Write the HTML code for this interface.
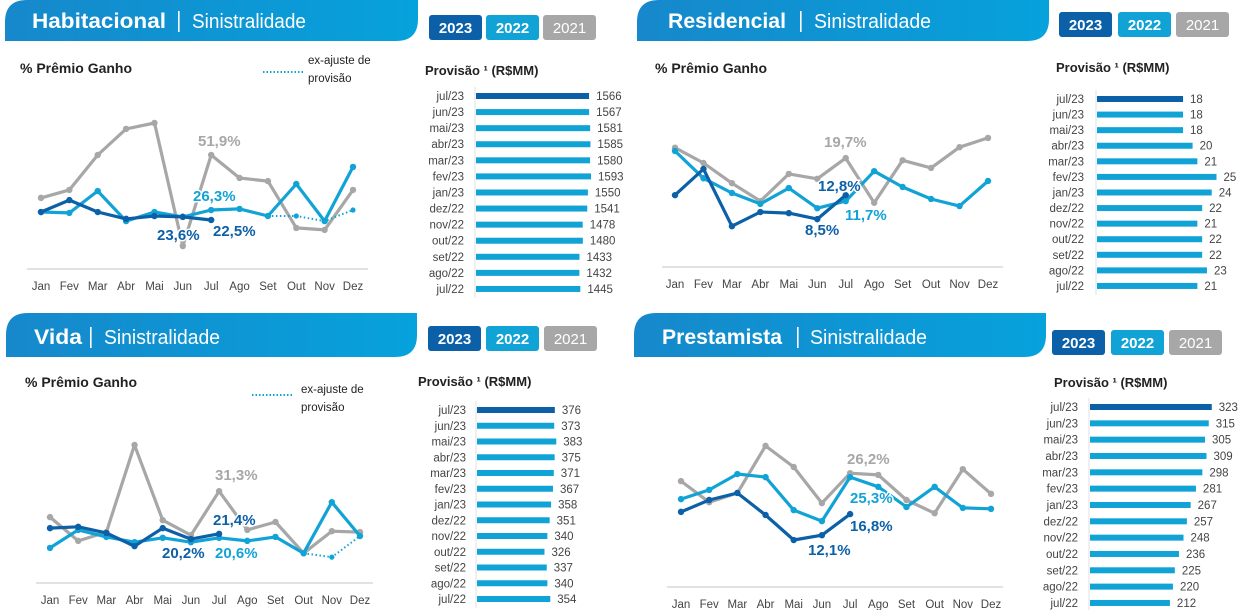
<!DOCTYPE html>
<html><head><meta charset="utf-8">
<style>
html,body{margin:0;padding:0;background:#fff;}
svg{display:block;font-family:"Liberation Sans",sans-serif;}
</style></head>
<body>
<svg id="root" width="1244" height="610" viewBox="0 0 1244 610" xmlns="http://www.w3.org/2000/svg">
<defs>
<linearGradient id="bn" x1="0" x2="1" y1="0" y2="0"><stop offset="0" stop-color="#1688cb"/><stop offset="1" stop-color="#06a2dc"/></linearGradient>
</defs>
</svg>
<script>
const months = ["Jan","Fev","Mar","Abr","Mai","Jun","Jul","Ago","Set","Out","Nov","Dez"];
const barCats = ["jul/23","jun/23","mai/23","abr/23","mar/23","fev/23","jan/23","dez/22","nov/22","out/22","set/22","ago/22","jul/22"];

// Habitacional
const hab2021 = [32.5,36.1,51.9,63.7,66.4,10.7,51.9,41.5,40.1,18.9,18.0,36.1];
const hab2022 = [26.1,25.7,35.6,22.0,26.1,23.9,27.0,27.5,24.3,38.8,22.0,46.5];
const hab2022ex = [null,null,null,null,null,null,null,null,24.3,24.3,22.0,27.0];
const hab2023 = [26.1,31.5,26.1,23.0,24.3,23.9,22.5];
const habProv = [1566,1567,1581,1585,1580,1593,1550,1541,1478,1480,1433,1432,1445];
// Residencial
const res2021 = [21.7,18.9,15.2,11.9,16.9,16.0,19.8,11.6,19.4,18.0,21.8,23.5];
const res2022 = [21.1,16.1,13.4,11.4,14.3,10.6,11.9,17.4,14.5,12.3,11.0,15.6];
const res2023 = [13.0,17.8,7.3,9.9,9.7,8.6,13.0];
const resProv = [18,18,18,20,21,25,24,22,21,22,22,23,21];
// Vida
const vid2021 = [25.2,19.8,21.8,41.6,24.5,21.1,31.1,22.3,24.1,17.0,22.0,21.8];
const vid2022 = [18.2,22.3,20.7,19.5,20.5,19.5,20.5,19.8,20.7,17.0,28.6,20.9];
const vid2022ex = [null,null,null,null,null,null,null,null,null,17.0,16.1,20.9];
const vid2023 = [22.7,23.0,21.6,18.6,22.7,20.2,21.4];
const vidProv = [376,373,383,375,371,367,358,351,340,326,337,340,354];
// Prestamista
const pre2021 = [24.3,19.5,21.6,32.3,27.5,19.3,26.1,25.7,20.0,17.0,27.0,21.4];
const pre2022 = [20.2,22.3,25.9,25.2,17.7,15.2,25.2,23.0,18.4,23.0,18.2,18.0];
const pre2023 = [17.3,20.0,21.6,16.6,10.9,12.0,16.8];
const preProv = [323,315,305,309,298,281,267,257,248,236,225,220,212];

const DARK="#0b60a8", LIGHT="#12a3d6", GRAY="#a7a7a7";
const NS="http://www.w3.org/2000/svg";
const root=document.getElementById('root');
function mk(tag,attrs,parent,text){const e=document.createElementNS(NS,tag);for(const k in attrs)e.setAttribute(k,attrs[k]);if(text!==undefined)e.textContent=text;(parent||root).appendChild(e);return e;}

function panel(cfg){
  const g=mk('g',{});
  
  
  // banner
  const b=cfg.banner; const r=22;
  const ban=mk('path',{d:`M${b.x0} ${b.y0+r} Q${b.x0} ${b.y0} ${b.x0+r} ${b.y0} L${b.x1} ${b.y0} L${b.x1} ${b.y1-r} Q${b.x1} ${b.y1} ${b.x1-r} ${b.y1} L${b.x0} ${b.y1} Z`,fill:'url(#bn)'},g);
  
  
  const t=mk('text',{x:cfg.title.x,y:cfg.title.y,fill:'#fff','font-size':21,'font-weight':'bold',textLength:cfg.title.w,lengthAdjust:'spacingAndGlyphs'},g,cfg.title.text);
  
  
  const dv=mk('rect',{x:cfg.title.div,y:cfg.title.y-17,width:1.6,height:21,fill:'#fff'},g);
  
  
  const s=mk('text',{x:cfg.title.sx,y:cfg.title.y,fill:'#fff','font-size':20,textLength:cfg.title.sw,lengthAdjust:'spacingAndGlyphs'},g,'Sinistralidade');
  
  
  // year tags
  const years=['2023','2022','2021'], cols=[DARK,LIGHT,GRAY];
  years.forEach((yr,i)=>{
    const x=cfg.tags.x[i];
    const rc=mk('rect',{x:x,y:cfg.tags.y,width:53,height:25,rx:3,fill:cols[i]},g);
    
    
    const tx=mk('text',{x:x+26.5,y:cfg.tags.y+18,'text-anchor':'middle',fill:'#fff','font-size':15,'font-weight':i<2?'bold':'normal'},g,yr);
    
    
  });
  if(cfg.sub){
    const st=mk('text',{x:cfg.sub.x,y:cfg.sub.y,fill:'#222','font-size':14,'font-weight':'bold'},g,'% Prêmio Ganho');
    
    
  }
  if(cfg.legend){
    const L=cfg.legend;
    const ll=mk('line',{x1:L.x,x2:L.x+40,y1:L.y,y2:L.y,stroke:LIGHT,'stroke-width':2,'stroke-dasharray':'1.5 2'},g);
    
    
    const l1=mk('text',{x:L.tx,y:L.t1,fill:'#222','font-size':11.5},g,'ex-ajuste de');
    
    
    const l2=mk('text',{x:L.tx,y:L.t2,fill:'#222','font-size':11.5},g,'provisão');
    
    
  }
  // line chart
  const C=cfg.chart;
  const xs=i=>C.x0+i*(C.x1-C.x0)/11;
  const ys=v=>C.base-v*C.k;
  const ax=mk('line',{x1:C.ax0,x2:C.ax1,y1:C.axy,y2:C.axy,stroke:'#d9d9d9','stroke-width':1.5},g);
  
  
  months.forEach((m,i)=>{
    const tl=mk('text',{x:xs(i),y:C.axy+21,'text-anchor':'middle',fill:'#444','font-size':11.5},g,m);
    
    
  });
  function series(arr,col,name,dotted){
    let d='';let started=false;
    arr.forEach((v,i)=>{if(v===null||v===undefined){return;}d+=(started?'L':'M')+xs(i).toFixed(1)+' '+ys(v).toFixed(1)+' ';started=true;});
    const p=mk('path',{d:d,fill:'none',stroke:col,'stroke-width':dotted?2:3.2,'stroke-linejoin':'round','stroke-dasharray':dotted?'1.5 2.5':'none'},g);
    
    
    arr.forEach((v,i)=>{if(v===null||v===undefined)return;
      const c=mk('circle',{cx:xs(i),cy:ys(v),r:dotted?2.6:3.2,fill:col},g);
      
      
    });
  }
  series(C.s21,GRAY,'series-2021');
  if(C.ex) series(C.ex,LIGHT,'series-2022-ex-ajuste',true);
  series(C.s22,LIGHT,'series-2022');
  series(C.s23,DARK,'series-2023');
  C.labels.forEach(L=>{
    const tl=mk('text',{x:L[0],y:L[1],fill:L[3],'font-size':15,'font-weight':'bold',stroke:'#fff','stroke-width':3,'paint-order':'stroke'},g,L[2]);
    
    
  });
  // provision bars
  const B=cfg.bars;
  const pt=mk('text',{x:B.tx,y:B.ty,fill:'#222','font-size':13,'font-weight':'bold'},g,'Provisão ¹ (R$MM)');
  
  
  const va=mk('line',{x1:B.x-1,x2:B.x-1,y1:B.y0-9,y2:B.y0+12*B.step+9,stroke:'#e0e0e0','stroke-width':1},g);
  
  
  barCats.forEach((c,i)=>{
    const y=B.y0+i*B.step; const w=B.vals[i]*B.k;
    const cl=mk('text',{x:B.lx,y:y+4,'text-anchor':'end',fill:'#444','font-size':11.5},g,c);
    
    
    const r=mk('rect',{x:B.x,y:y-3,width:w,height:6,fill:i===0?DARK:LIGHT},g);
    
    
    const vl=mk('text',{x:B.x+w+7,y:y+4,fill:'#444','font-size':11.5},g,String(B.vals[i]));
    
    
  });
}

panel({id:'habitacional',
  banner:{x0:5,y0:0,x1:418,y1:41},
  title:{text:'Habitacional',x:32,y:28,w:134,div:178,sx:192,sw:114},
  tags:{x:[429,486,543],y:15},
  sub:{x:20,y:73},
  legend:{x:263,y:72,tx:308,t1:64,t2:82},
  chart:{x0:41,x1:353,base:269.7,k:2.21,ax0:27,ax1:368,axy:269,s21:hab2021,s22:hab2022,s23:hab2023,ex:hab2022ex,
    labels:[[198,146,'51,9%',GRAY],[193,201,'26,3%',LIGHT],[157,240,'23,6%',DARK],[213,236,'22,5%',DARK]]},
  bars:{tx:425,ty:75,lx:464,x:476,y0:96,step:16.08,k:0.0722,vals:habProv}
});
panel({id:'residencial',
  banner:{x0:637,y0:0,x1:1049,y1:41},
  title:{text:'Residencial',x:668,y:28,w:118,div:800,sx:814,sw:117},
  tags:{x:[1059,1118,1176],y:12},
  sub:{x:655,y:73},
  chart:{x0:675,x1:988,base:266,k:5.45,ax0:662,ax1:1003,axy:267,s21:res2021,s22:res2022,s23:res2023,
    labels:[[824,147,'19,7%',GRAY],[818,191,'12,8%',DARK],[845,220,'11,7%',LIGHT],[805,235,'8,5%',DARK]]},
  bars:{tx:1056,ty:72,lx:1084,x:1097,y0:99,step:15.58,k:4.78,vals:resProv}
});
panel({id:'vida',
  banner:{x0:6,y0:313,x1:417,y1:357},
  title:{text:'Vida',x:34,y:344,w:48,div:90,sx:104,sw:116},
  tags:{x:[428,486,544],y:326},
  sub:{x:25,y:387},
  legend:{x:252,y:395,tx:301,t1:393,t2:411},
  chart:{x0:50,x1:360,base:628,k:4.4,ax0:36,ax1:373,axy:583,s21:vid2021,s22:vid2022,s23:vid2023,ex:vid2022ex,
    labels:[[215,480,'31,3%',GRAY],[213,525,'21,4%',DARK],[162,558,'20,2%',DARK],[215,558,'20,6%',LIGHT]]},
  bars:{tx:418,ty:386,lx:466,x:477,y0:410,step:15.75,k:0.207,vals:vidProv}
});
panel({id:'prestamista',
  banner:{x0:634,y0:313,x1:1046,y1:357},
  title:{text:'Prestamista',x:662,y:344,w:120,div:797,sx:810,sw:117},
  tags:{x:[1052,1111,1169],y:330},
  chart:{x0:681,x1:991,base:588,k:4.4,ax0:667,ax1:1003,axy:587,s21:pre2021,s22:pre2022,s23:pre2023,
    labels:[[847,464,'26,2%',GRAY],[850,503,'25,3%',LIGHT],[850,531,'16,8%',DARK],[808,555,'12,1%',DARK]]},
  bars:{tx:1054,ty:387,lx:1078,x:1090,y0:407,step:16.33,k:0.377,vals:preProv}
});
</script>
</body></html>
